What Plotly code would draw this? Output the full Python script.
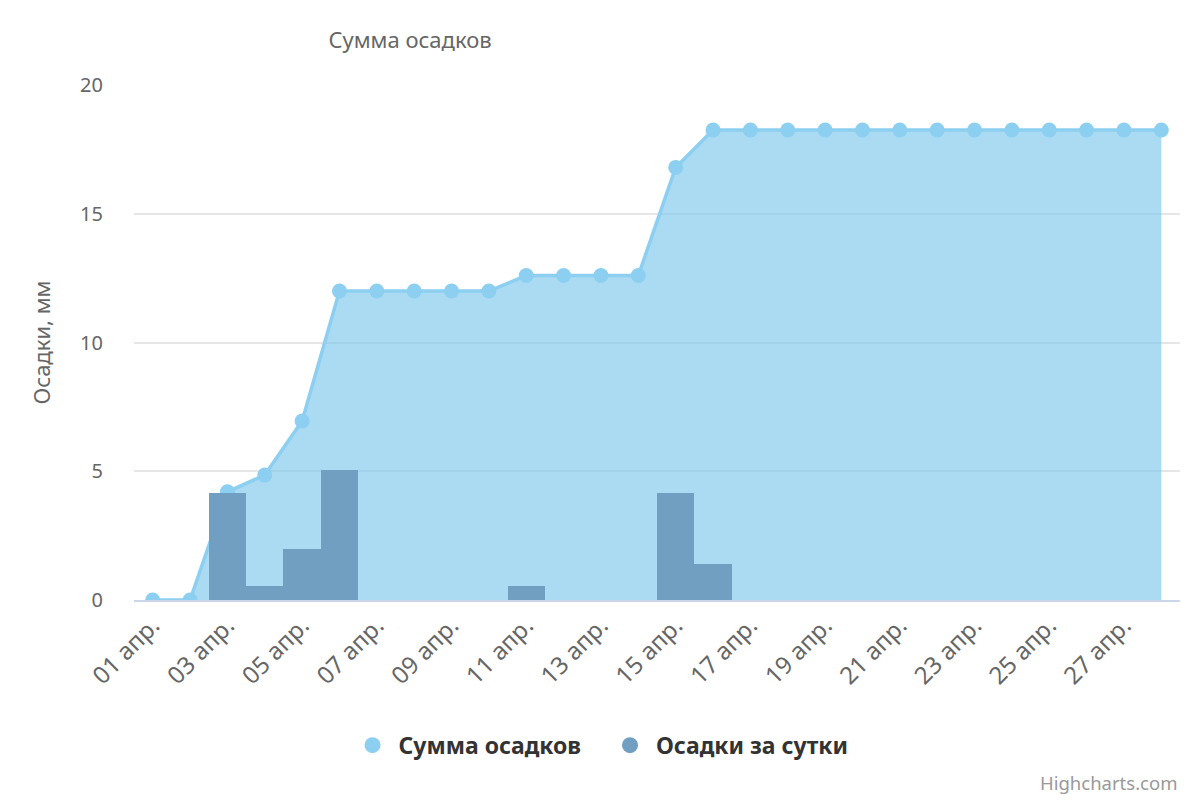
import plotly.graph_objects as go

# ----- data -----
days = ["%02d апр." % d for d in range(1, 29)]

total_mm = [0, 0, 4.2, 4.85, 6.95, 12.0, 12.0, 12.0, 12.0, 12.0,
            12.6, 12.6, 12.6, 12.6, 16.8, 18.25, 18.25, 18.25, 18.25, 18.25,
            18.25, 18.25, 18.25, 18.25, 18.25, 18.25, 18.25, 18.25]

daily_mm = [0, 0, 4.15, 0.55, 2.0, 5.05, 0, 0, 0, 0,
            0.55, 0, 0, 0, 4.15, 1.4, 0, 0, 0, 0,
            0, 0, 0, 0, 0, 0, 0, 0]

tick_days = days[::2]
y_ticks = [0, 5, 10, 15, 20]

font_main = "Noto Sans, Open Sans, sans-serif"

# page body has an 8px default margin, so the figure is a bit smaller
W, H, PAD = 1200, 800, 8
PLOT_L, PLOT_R = 134, 1180

fig = go.Figure()

# cumulative area
fig.add_trace(go.Scatter(x=days, y=total_mm,
                         mode='lines+markers',
                         fill='tozeroy',
                         fillcolor='rgba(124,199,237,0.65)',
                         line=dict(color='#8ccff0', width=3.5),
                         marker=dict(color='#8ccff0', size=15),
                         name='Сумма осадков',
                         showlegend=False))

# daily bars on an overlaid axis so they sit above the area
fig.add_trace(go.Bar(x=days, y=daily_mm,
                     marker=dict(color='#719fc1', line=dict(width=0)),
                     name='Осадки за сутки',
                     yaxis='y2',
                     showlegend=False))

# legend entries with round symbols
fig.add_trace(go.Scatter(x=[None], y=[None], mode='markers',
                         marker=dict(color='#8ccff0', size=24),
                         name='Сумма осадков   '))
fig.add_trace(go.Scatter(x=[None], y=[None], mode='markers',
                         marker=dict(color='#719fc1', size=24),
                         name='Осадки за сутки'))

fig.update_layout(
    width=W - PAD, height=H - PAD,
    paper_bgcolor='white', plot_bgcolor='white',
    margin=dict(l=PLOT_L - PAD, r=W - PLOT_R, t=85 - PAD, b=200, autoexpand=False),
    bargap=0,
    title=dict(text='Сумма осадков', x=(410 - PAD) / (W - PAD), xanchor='center',
               y=1 - (40 - PAD) / (H - PAD), yanchor='middle',
               font=dict(family=font_main, size=22, color='#666666')),
    xaxis=dict(type='category', categoryorder='array', categoryarray=days,
               range=[-0.5, 27.5], automargin=False,
               tickmode='array', tickvals=tick_days, ticktext=tick_days,
               tickangle=-45, showgrid=False,
               showline=True, linecolor='#ccd6eb', linewidth=2,
               ticks='', tickfont=dict(family=font_main, size=24, color='#666666')),
    yaxis=dict(range=[0, 20], tickvals=y_ticks, showgrid=True, automargin=False,
               gridcolor='#e6e6e6', gridwidth=2, zeroline=False,
               ticks='outside', ticklen=26, tickcolor='rgba(0,0,0,0)',
               tickfont=dict(family=font_main, size=20, color='#666666'),
               title=dict(text='Осадки, мм', standoff=23,
                          font=dict(family=font_main, size=22, color='#666666'))),
    yaxis2=dict(range=[0, 20], overlaying='y', visible=False),
    legend=dict(orientation='h', x=(600 - PLOT_L) / (PLOT_R - PLOT_L), xanchor='center',
                y=-0.282, yanchor='middle',
                font=dict(family=font_main, size=23, color='#333333', weight='bold'),
                itemsizing='trace', itemwidth=42),
)

fig.add_annotation(text='Highcharts.com', xref='paper', yref='paper',
                   x=1, xanchor='right', y=-0.355, yanchor='middle',
                   showarrow=False,
                   font=dict(family=font_main, size=18.5, color='#999999'))

fig.write_html("out.html")
